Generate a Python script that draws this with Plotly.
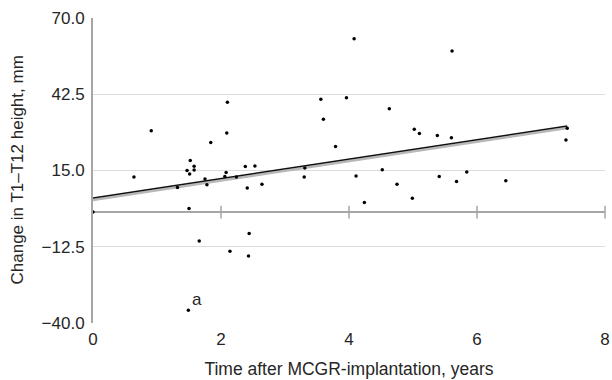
import plotly.graph_objects as go

# Data
years = [0.00, 0.64, 0.91, 1.84, 1.52, 1.47, 1.51, 1.58, 1.58, 1.32, 1.75, 1.78, 1.50,
         2.10, 3.56, 2.09, 3.60, 3.79, 2.08, 2.06, 2.24, 2.38, 2.53, 2.41, 2.64, 3.31,
         3.30, 1.66, 2.44, 2.14, 2.43, 1.49, 4.08, 5.61, 3.96, 4.63, 5.02, 5.10, 5.38,
         5.60, 4.11, 4.52, 4.75, 4.24, 4.99, 5.41, 5.68, 5.84, 7.41, 7.39, 6.45]
change_mm = [0.0, 12.7, 29.3, 25.1, 18.6, 15.0, 13.7, 16.5, 15.2, 8.9, 11.9, 9.9, 1.3,
             39.6, 40.7, 28.5, 33.5, 23.7, 14.3, 12.8, 12.7, 16.4, 16.6, 8.7, 10.0, 15.9,
             12.7, -10.4, -7.7, -14.1, -15.8, -35.4, 62.5, 58.1, 41.2, 37.3, 29.9, 28.3, 27.6,
             26.8, 13.0, 15.3, 10.0, 3.5, 5.0, 12.8, 11.0, 14.5, 30.2, 26.0, 11.3]

trend_intercept = 5.1
trend_slope = 3.5
trend_x = [0.0, 7.41]
shadow_offset = -0.7

outlier_x = 1.49
outlier_y = -35.4
outlier_label = "a"

x_ticks = [0, 2, 4, 6, 8]
y_ticks = [-40.0, -12.5, 15.0, 42.5, 70.0]

x_title = "Time after MCGR-implantation, years"
y_title = "Change in T1\u2013T12 height, mm"

FONT = "Liberation Sans, Arial, sans-serif"
TXT = "#262626"
AXIS = "#a6a6a6"
GRID = "#dcdcdc"
FS = 17

fig = go.Figure()

# Shadow of trend line
fig.add_trace(go.Scatter(
    x=trend_x, y=[trend_intercept + shadow_offset + trend_slope * v for v in trend_x],
    mode="lines", line=dict(color="#b8b8b8", width=2.5), hoverinfo="skip", showlegend=False))
# Trend line
fig.add_trace(go.Scatter(
    x=trend_x, y=[trend_intercept + trend_slope * v for v in trend_x],
    mode="lines", line=dict(color="#111111", width=1.5), hoverinfo="skip", showlegend=False))

# Tick marks crossing the zero axis line
fig.add_trace(go.Scatter(
    x=x_ticks[1:], y=[0] * (len(x_ticks) - 1), mode="markers",
    marker=dict(symbol="line-ns", size=9, line=dict(color=AXIS, width=1.5)),
    hoverinfo="skip", showlegend=False, cliponaxis=False))

# Data points
fig.add_trace(go.Scatter(
    x=years, y=change_mm, mode="markers",
    marker=dict(color="#000000", size=3.5), showlegend=False, cliponaxis=False))

fig.add_annotation(x=outlier_x, y=outlier_y, text=outlier_label, showarrow=False,
                   xanchor="left", yanchor="bottom", xshift=2, yshift=-1,
                   font=dict(family=FONT, size=FS, color=TXT))

# Y axis title as rotated annotation
fig.add_annotation(xref="paper", yref="paper", x=0, y=0.5, xshift=-76,
                   text=y_title, textangle=-90, showarrow=False,
                   xanchor="center", yanchor="middle",
                   font=dict(family=FONT, size=FS, color=TXT))

fig.update_layout(
    width=612, height=380,
    margin=dict(l=93, r=7, t=18, b=57),
    paper_bgcolor="white", plot_bgcolor="white",
    font=dict(family=FONT, size=FS, color=TXT),
    xaxis=dict(range=[0, 8], tickvals=x_ticks, ticktext=[str(v) for v in x_ticks],
               showgrid=False, zeroline=False, showline=False, ticks="",
               automargin=False, ticklabelstandoff=4,
               title=dict(text=x_title, standoff=14,
                          font=dict(size=17.5, color=TXT)),
               tickfont=dict(size=FS, color=TXT)),
    yaxis=dict(range=[-40, 70], tickvals=y_ticks, tickformat=".1f",
               showgrid=True, gridcolor=GRID, gridwidth=1,
               zeroline=True, zerolinecolor=AXIS, zerolinewidth=1.5,
               showline=True, linecolor=AXIS, linewidth=2, ticks="",
               automargin=False, ticklabelstandoff=3,
               tickfont=dict(size=FS, color=TXT)),
)

fig.write_html("out.html", config={"displayModeBar": False},
               post_script="document.body.style.margin='0';document.body.style.padding='0';")
